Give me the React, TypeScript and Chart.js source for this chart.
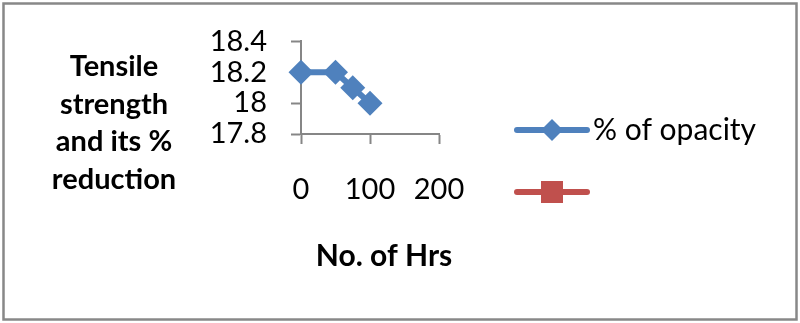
import React, { useEffect, useRef } from 'react';
import { Chart, registerables } from 'chart.js';

Chart.register(...registerables);

// Series data
const hours = [0, 50, 75, 100];
const opacityValues = [18.2, 18.2, 18.1, 18.0];
const reductionValues: number[] = [];
const seriesNames = ['% of opacity', ''];

// Axis ranges / tick labels
const xTicks = [0, 100, 200];
const yTicks = [17.8, 18, 18.2, 18.4];
const yTitleLines = ['Tensile', 'strength', 'and its %', 'reduction'];
const xTitle = 'No. of Hrs';

const BLUE = '#4F81BD';
const RED = '#C0504D';
const AXIS = '#868686';
const FONT = 'Lato';

const decorations = {
  id: 'decorations',
  afterDraw(chart: any) {
    const ctx: CanvasRenderingContext2D = chart.ctx;
    const area = chart.chartArea;
    ctx.save();

    // outer frame
    ctx.strokeStyle = '#888888';
    ctx.lineWidth = 2.5;
    ctx.strokeRect(3.5, 3.5, 793, 316);

    // vertical axis title (horizontal, multi-line)
    ctx.fillStyle = '#000';
    ctx.textAlign = 'center';
    ctx.textBaseline = 'alphabetic';
    ctx.font = `bold 29px ${FONT}`;
    yTitleLines.forEach((line, i) => ctx.fillText(line, 114, 76 + i * 37.7));

    // horizontal axis title
    ctx.font = `bold 30px ${FONT}`;
    ctx.fillText(xTitle, 384, 266);

    // legend
    chart.data.datasets.forEach((ds: any, i: number) => {
      const cy = 130 + i * 62;
      const x0 = area.right + 78;
      const x1 = x0 + 70;
      const cx = (x0 + x1) / 2;
      ctx.strokeStyle = ds.borderColor;
      ctx.fillStyle = ds.backgroundColor;
      ctx.lineWidth = 6;
      ctx.lineCap = 'round';
      ctx.beginPath();
      ctx.moveTo(x0, cy);
      ctx.lineTo(x1, cy);
      ctx.stroke();
      ctx.beginPath();
      if (ds.pointStyle === 'rectRot') {
        const r = 11;
        ctx.moveTo(cx - r, cy);
        ctx.lineTo(cx, cy - r);
        ctx.lineTo(cx + r, cy);
        ctx.lineTo(cx, cy + r);
      } else {
        const h = 11;
        ctx.rect(cx - h, cy - h, 2 * h, 2 * h);
      }
      ctx.closePath();
      ctx.fill();
      if (ds.label) {
        ctx.fillStyle = '#000';
        ctx.textAlign = 'left';
        ctx.font = `30px ${FONT}`;
        ctx.fillText(ds.label, x1 + 6, cy + 10);
      }
    });

    ctx.restore();
  },
};

export default function App() {
  const canvasRef = useRef<HTMLCanvasElement | null>(null);

  useEffect(() => {
    const canvas = canvasRef.current;
    if (!canvas) return;
    const chart = new Chart(canvas, {
      type: 'line',
      data: {
        datasets: [
          {
            label: seriesNames[0],
            data: hours.map((h, i) => ({ x: h, y: opacityValues[i] })),
            borderColor: BLUE,
            backgroundColor: BLUE,
            borderWidth: 6,
            pointStyle: 'rectRot',
            pointRadius: 12.5,
            pointBorderWidth: 0,
            pointBackgroundColor: BLUE,
            tension: 0,
            clip: false,
          },
          {
            label: seriesNames[1],
            data: reductionValues.map((v, i) => ({ x: hours[i], y: v })),
            borderColor: RED,
            backgroundColor: RED,
            borderWidth: 6,
            pointStyle: 'rect',
            pointRadius: 15,
            clip: false,
          },
        ],
      },
      options: {
        responsive: false,
        animation: false,
        layout: { padding: { left: 0, top: 41, right: 361, bottom: 0 } },
        plugins: {
          legend: { display: false },
          tooltip: { enabled: false },
        },
        scales: {
          x: {
            type: 'linear',
            min: xTicks[0],
            max: xTicks[xTicks.length - 1],
            afterFit: (s: any) => {
              s.height = 189;
            },
            afterBuildTicks: (s: any) => {
              s.ticks = xTicks.map((v) => ({ value: v }));
            },
            ticks: {
              autoSkip: false,
              color: '#000',
              font: { family: FONT, size: 29 },
              padding: 28,
              maxRotation: 0,
              callback: (v: any) => String(v),
            },
            grid: {
              display: true,
              drawOnChartArea: false,
              drawTicks: true,
              tickLength: 10,
              tickWidth: 2,
              tickColor: AXIS,
            },
            border: { display: true, color: AXIS, width: 2 },
          },
          y: {
            type: 'linear',
            min: yTicks[0],
            max: yTicks[yTicks.length - 1],
            afterFit: (s: any) => {
              s.width = 301;
            },
            afterBuildTicks: (s: any) => {
              s.ticks = yTicks.map((v) => ({ value: v }));
            },
            ticks: {
              autoSkip: false,
              color: '#000',
              font: { family: FONT, size: 29 },
              padding: 24,
              callback: (v: any) => String(Math.round(Number(v) * 10) / 10),
            },
            grid: {
              display: true,
              drawOnChartArea: false,
              drawTicks: true,
              tickLength: 10,
              tickWidth: 2,
              tickColor: AXIS,
            },
            border: { display: true, color: AXIS, width: 2 },
          },
        },
      },
      plugins: [decorations],
    });
    return () => chart.destroy();
  }, []);

  return (
    <div style={{ position: 'absolute', left: 0, top: 0, width: 800, height: 323, background: '#fff' }}>
      <canvas ref={canvasRef} width={800} height={323} />
    </div>
  );
}
